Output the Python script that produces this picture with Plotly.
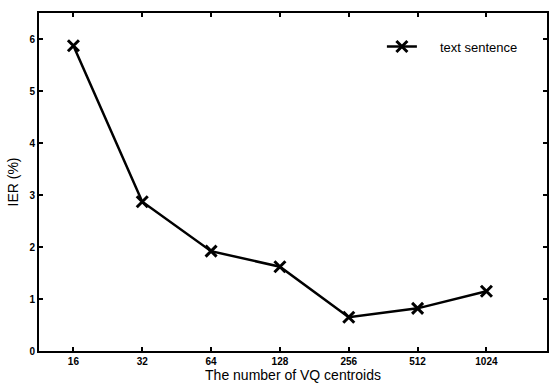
import plotly.graph_objects as go

categories = ["16", "32", "64", "128", "256", "512", "1024"]
ier = [5.87, 2.87, 1.92, 1.62, 0.65, 0.82, 1.15]
y_ticks = [0, 1, 2, 3, 4, 5, 6]

FONT = "Liberation Sans, Arial, sans-serif"

fig = go.Figure()
fig.add_trace(go.Scatter(
    x=list(range(len(categories))), y=ier, mode="lines+markers",
    name="\u00a0\u00a0\u00a0\u00a0\u00a0text sentence",
    line=dict(color="black", width=2.5),
    marker=dict(symbol="x-thin", size=11, line=dict(color="black", width=3), color="black"),
))

fig.update_layout(
    width=551, height=384,
    margin=dict(l=39, r=2, t=13, b=33),
    paper_bgcolor="white", plot_bgcolor="white",
    font=dict(family=FONT, color="black"),
    showlegend=True,
    legend=dict(x=0.675, y=0.945, xanchor="left", yanchor="top",
                bgcolor="rgba(0,0,0,0)", font=dict(size=13)),
)
fig.update_xaxes(
    range=[-0.5, 6.88], tickmode="array",
    tickvals=list(range(len(categories))),
    ticktext=["<b>%s</b>" % c for c in categories],
    ticks="inside", ticklen=4, tickwidth=2, tickcolor="black",
    showline=True, linecolor="black", linewidth=2, mirror="ticks",
    showgrid=False, zeroline=False,
    tickfont=dict(size=10, family=FONT),
    title=dict(text="The number of VQ centroids", font=dict(size=14), standoff=2),
)
fig.update_yaxes(
    range=[0, 6.5], tickmode="array", tickvals=y_ticks,
    ticktext=["<b>%d</b>" % v for v in y_ticks],
    ticks="inside", ticklen=4, tickwidth=2, tickcolor="black",
    showline=True, linecolor="black", linewidth=2, mirror="ticks",
    showgrid=False, zeroline=False,
    tickfont=dict(size=10, family=FONT),
    title=dict(text="IER (%)", font=dict(size=14), standoff=8),
)

fig.write_html("out.html", config={"displayModeBar": False},
               post_script="document.body.style.margin='0';")
